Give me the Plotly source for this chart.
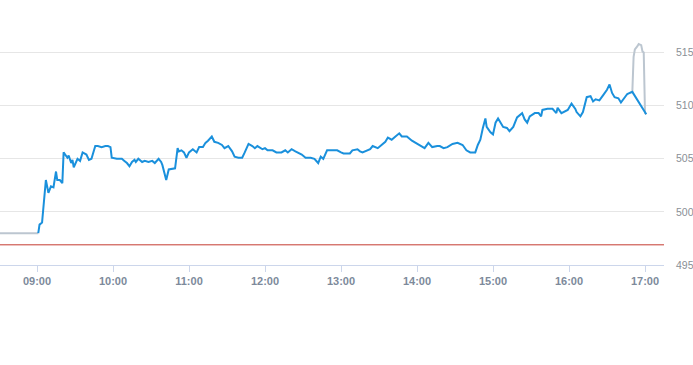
import plotly.graph_objects as go

DAY = "2024-01-15 "

# Regular session (blue)
main_times = ["09:01","09:02","09:04","09:07","09:09","09:11","09:13","09:15","09:16","09:18",
"09:20","09:21","09:24","09:25","09:27","09:28","09:29","09:32","09:34","09:36",
"09:39","09:41","09:43","09:46","09:48","09:51","09:54","09:56","09:58","09:59",
"10:03","10:07","10:09","10:11","10:13","10:15","10:17","10:18","10:20","10:23",
"10:25","10:28","10:31","10:33","10:36","10:38","10:39","10:42","10:44","10:49",
"10:51","10:52","10:54","10:56","10:58","11:00","11:03","11:06","11:08","11:11",
"11:13","11:15","11:18","11:20","11:23","11:26","11:28","11:31","11:34","11:36",
"11:39","11:42","11:44","11:47","11:50","11:52","11:54","11:58","12:00","12:02",
"12:06","12:09","12:13","12:16","12:18","12:21","12:24","12:26","12:29","12:32",
"12:36","12:39","12:42","12:44","12:46","12:49","12:51","12:53","12:57","13:00",
"13:02","13:07","13:09","13:13","13:15","13:17","13:21","13:23","13:25","13:29",
"13:32","13:35","13:37","13:40","13:43","13:46","13:48","13:52","13:56","14:00",
"14:04","14:06","14:09","14:12","14:16","14:18","14:21","14:24","14:28","14:32",
"14:36","14:39","14:42","14:46","14:48","14:50","14:52","14:54","14:55","14:58",
"15:00","15:02","15:04","15:06","15:08","15:11","15:13","15:16","15:19","15:23",
"15:25","15:27","15:29","15:33","15:36","15:38","15:39","15:43","15:47","15:50",
"15:51","15:54","15:57","15:59","16:02","16:05","16:06","16:09","16:11","16:14",
"16:17","16:19","16:21","16:24","16:27","16:30","16:32","16:34","16:36","16:39",
"16:41","16:43","16:46","16:48","16:50","17:01"]
main_prices = [498.0,498.8,499.0,503.0,501.8,502.4,502.3,503.8,503.0,503.0,
502.7,505.6,505.1,505.3,504.6,504.9,504.2,505.0,504.8,505.6,
505.4,504.9,505.0,506.2,506.2,506.1,506.2,506.2,506.1,505.1,
505.0,505.0,504.8,504.6,504.3,504.7,504.9,504.7,505.0,504.7,
504.8,504.7,504.8,504.6,505.0,504.7,504.4,503.0,504.0,504.1,
506.0,505.7,505.8,505.6,505.1,505.6,505.9,505.6,506.1,506.1,
506.5,506.7,507.1,506.6,506.5,506.3,506.0,506.2,505.7,505.2,
505.1,505.1,505.6,506.4,506.2,506.0,506.2,505.9,506.0,505.8,
505.8,505.6,505.6,505.8,505.6,505.9,505.7,505.6,505.4,505.1,
505.1,505.0,504.6,505.2,505.0,505.8,505.8,505.8,505.8,505.6,
505.5,505.5,505.8,505.9,505.7,505.6,505.8,505.9,506.2,506.0,
506.3,506.6,507.0,506.8,507.1,507.4,507.1,507.1,506.7,506.4,
506.1,506.0,506.5,506.1,506.2,506.2,506.0,506.1,506.4,506.5,
506.3,505.8,505.6,505.6,506.3,506.8,507.9,508.8,508.0,507.5,
507.3,508.4,508.8,508.4,508.0,507.9,507.6,508.0,508.9,509.3,
508.7,508.4,509.0,509.3,509.3,509.0,509.6,509.7,509.7,509.3,
509.8,509.3,509.5,509.6,510.2,509.7,509.4,509.0,509.4,510.8,
510.9,510.4,510.6,510.5,511.0,511.5,512.0,511.2,510.8,510.7,
510.3,510.6,511.1,511.2,511.3,509.2]

# Pre-market (grey)
pre_times = ["08:29","08:45","09:00","09:01"]
pre_prices = [498.0,498.0,498.0,498.0]

# After-hours (grey)
post_times = ["16:48","16:50","16:51","16:52","16:54","16:55","16:57","16:58","16:59","17:00","17:01"]
post_prices = [511.2,511.3,514.6,515.3,515.6,515.8,515.7,515.1,515.0,509.3,509.2]

ref_price = 496.9
y_ticks = [495, 500, 505, 510, 515]
x_ticks = ["09:00","10:00","11:00","12:00","13:00","14:00","15:00","16:00","17:00"]

def ts(lst):
    return [DAY + t + ":00" for t in lst]

fig = go.Figure()
fig.add_trace(go.Scatter(x=ts(pre_times), y=pre_prices, mode="lines",
                         line=dict(color="#bcc6d0", width=2), hoverinfo="skip"))
fig.add_trace(go.Scatter(x=ts(post_times), y=post_prices, mode="lines",
                         line=dict(color="#bcc6d0", width=2), hoverinfo="skip"))
fig.add_trace(go.Scatter(x=ts(main_times), y=main_prices, mode="lines",
                         line=dict(color="#1a90dc", width=2)))

fig.add_shape(type="line", xref="paper", x0=0, x1=1, yref="y", y0=ref_price, y1=ref_price,
              line=dict(color="#c43b30", width=1))

fig.update_layout(
    width=693, height=365,
    margin=dict(l=0, r=29, t=0, b=100),
    paper_bgcolor="white", plot_bgcolor="white",
    showlegend=False,
    font=dict(family="Liberation Sans, Arial, sans-serif", size=11, color="#8a96a6"),
)
fig.update_xaxes(
    type="date", automargin=False,
    range=[DAY + "08:30:47", DAY + "17:15:00"],
    tickvals=ts(x_ticks), ticktext=["<b>%s</b>" % t for t in x_ticks],
    showgrid=False, showline=True, linecolor="#ccd6eb", linewidth=1,
    ticks="outside", ticklen=6, tickcolor="#ccd6eb",
    tickfont=dict(size=11, color="#7d8a9b"),
    zeroline=False,
)
fig.update_yaxes(
    side="right", range=[495, 519.95], automargin=False,
    tickvals=y_ticks, ticktext=[str(v) for v in y_ticks],
    showgrid=True, gridcolor="#e6e6e6", gridwidth=1,
    ticks="", ticklabelstandoff=11,
    tickfont=dict(size=10.5, color="#8a8f96"),
    zeroline=False, showline=False,
)
fig.write_html("out.html", config={"displayModeBar": False},
               post_script="document.body.style.margin='0';document.body.style.overflow='hidden';")
